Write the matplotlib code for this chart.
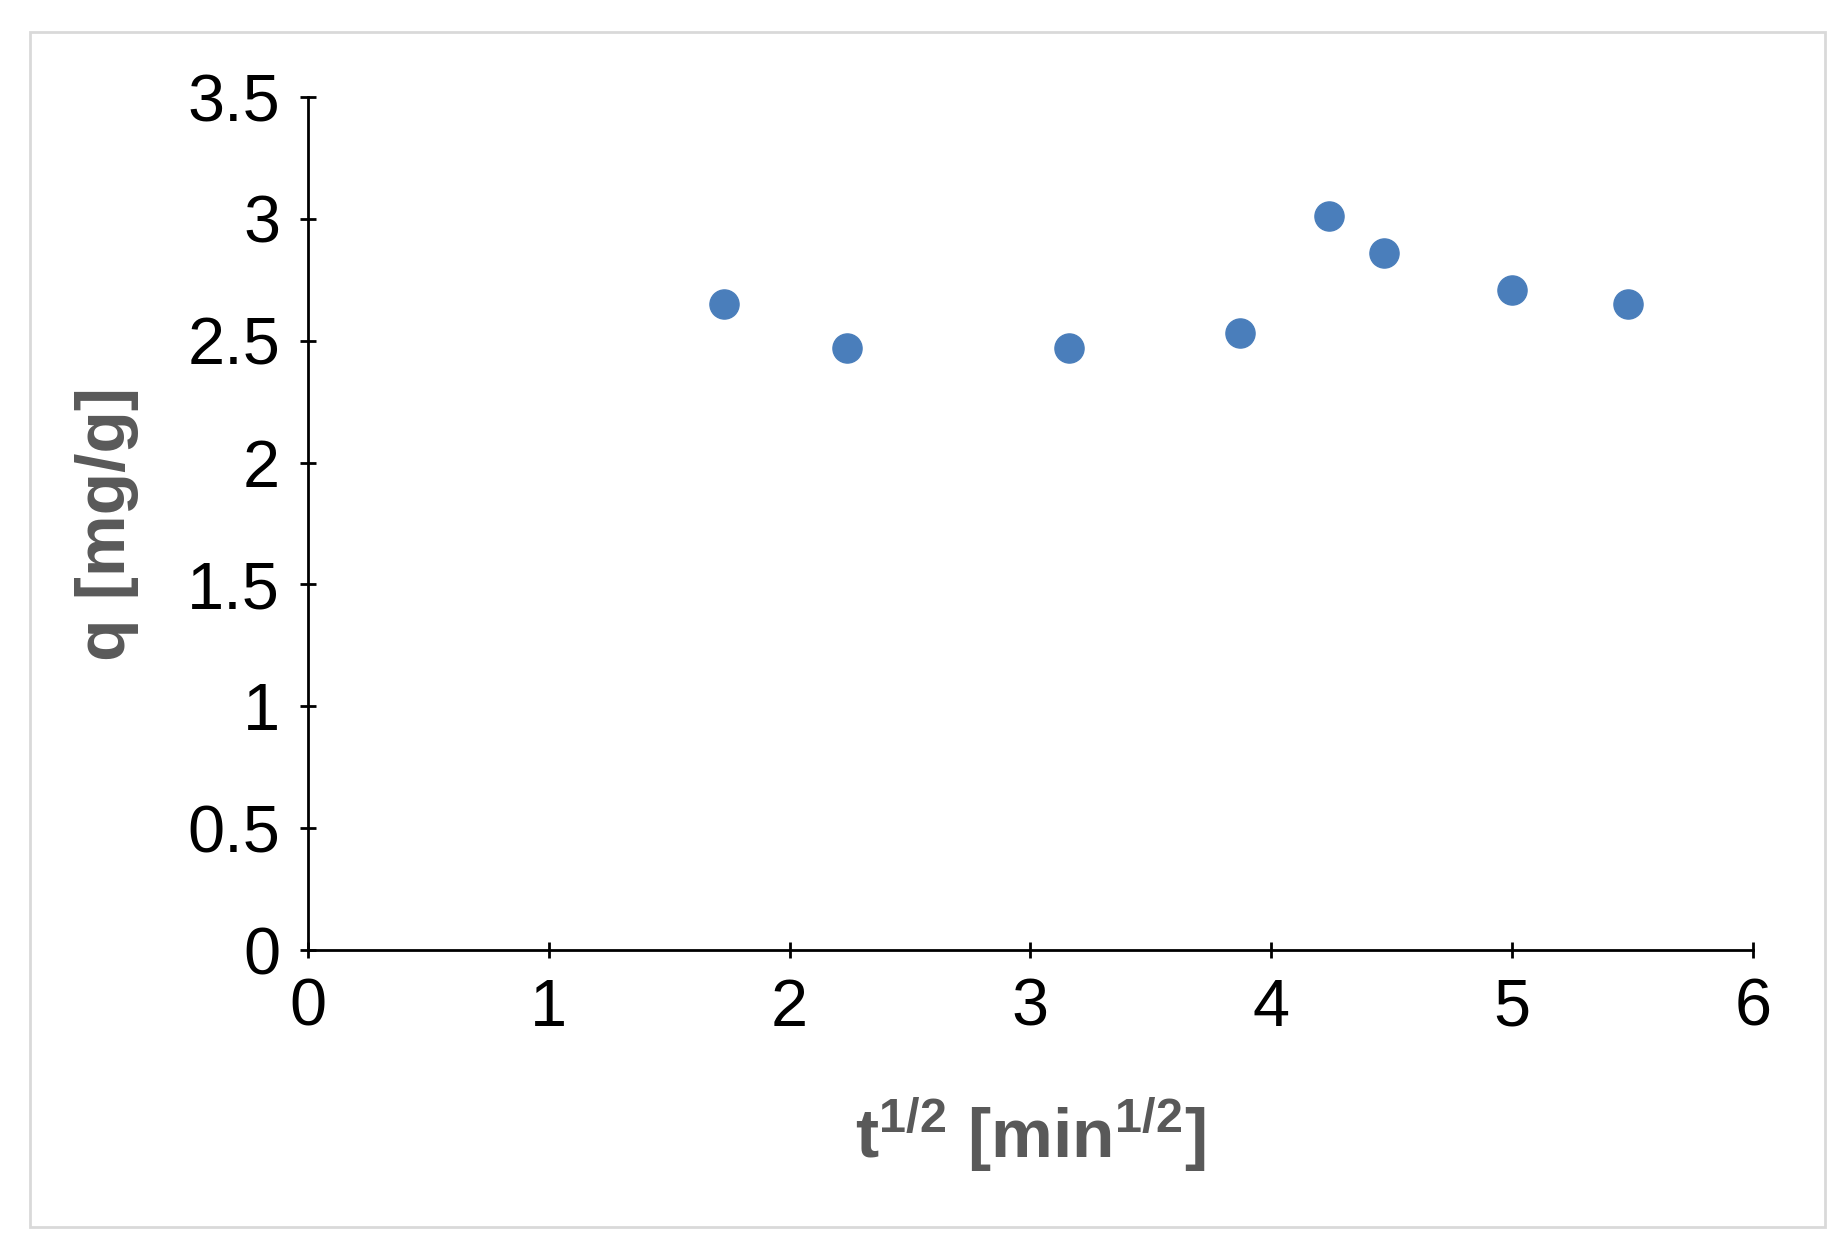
import matplotlib
matplotlib.use("Agg")
import matplotlib.pyplot as plt
from matplotlib.patches import Rectangle

t_sqrt = [1.73, 2.24, 3.16, 3.87, 4.24, 4.47, 5.00, 5.48]
q = [2.65, 2.47, 2.47, 2.53, 3.01, 2.86, 2.71, 2.65]
xticks = [0, 1, 2, 3, 4, 5, 6]
yticks = [0, 0.5, 1, 1.5, 2, 2.5, 3, 3.5]

plt.rcParams['font.family'] = ['Liberation Sans', 'DejaVu Sans']
plt.rcParams['mathtext.fontset'] = 'custom'
plt.rcParams['mathtext.rm'] = 'Liberation Sans'
plt.rcParams['mathtext.bf'] = 'Liberation Sans:bold'
fig = plt.figure(figsize=(18.49, 12.60), dpi=100)
fig.patches.append(Rectangle((0.016, 0.026), 0.971, 0.949, transform=fig.transFigure,
                             fill=False, edgecolor='#d9d9d9', linewidth=2))
ax = fig.add_axes([0.1665, 0.246, 0.7815, 0.677])
ax.scatter(t_sqrt, q, s=440, color='#4a7ebb', zorder=3)
ax.set_xlim(0, 6)
ax.set_ylim(0, 3.5)
ax.set_xticks(xticks)
ax.set_yticks(yticks)
ax.set_xticklabels([str(v) for v in xticks])
ax.set_yticklabels(['0', '0.5', '1', '1.5', '2', '2.5', '3', '3.5'])
for s in ['top', 'right']:
    ax.spines[s].set_visible(False)
for s in ['left', 'bottom']:
    ax.spines[s].set_linewidth(2)
ax.tick_params(labelsize=48, width=2, length=12, direction='inout', pad=14)
ax.set_xlabel(r'$\mathbf{t^{1/2}}$ [min$\mathbf{^{1/2}}$]', fontsize=50, fontweight='bold',
              color='#595959', labelpad=40)
ax.set_ylabel('q [mg/g]', fontsize=50, fontweight='bold', color='#595959', labelpad=35)
fig.savefig('out.png', dpi=100)
